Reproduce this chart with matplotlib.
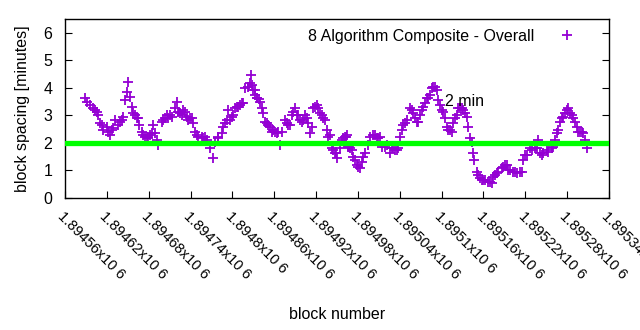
import matplotlib
matplotlib.use("Agg")
import matplotlib.pyplot as plt

# block number / spacing in minutes
blocks = [
    1894589, 1894596, 1894603, 1894607, 1894610, 1894614, 1894622, 1894624,
    1894629, 1894632, 1894639, 1894643, 1894646, 1894649, 1894650, 1894653,
    1894656, 1894660, 1894665, 1894666, 1894670, 1894675, 1894679, 1894685,
    1894686, 1894692, 1894693, 1894699, 1894703, 1894706,
    1894713, 1894718, 1894721, 1894725, 1894729, 1894735, 1894739, 1894744,
    1894746, 1894751, 1894758, 1894764, 1894768, 1894772, 1894775, 1894779,
    1894785, 1894787, 1894792, 1894794, 1894799, 1894804, 1894808, 1894814,
    1894818, 1894825, 1894826, 1894830, 1894832, 1894835,
    1894838, 1894840, 1894844, 1894850, 1894854, 1894858, 1894864, 1894868,
    1894871, 1894875, 1894880, 1894885, 1894890, 1894894, 1894900, 1894904,
    1894908, 1894911, 1894916, 1894921, 1894926, 1894930, 1894936, 1894937,
    1894943, 1894947, 1894950, 1894954, 1894959, 1894963, 1894964, 1894966,
    1894969, 1894973, 1894979, 1894983, 1894986, 1894990, 1894994, 1895002,
    1895007, 1895012, 1895014, 1895022, 1895026, 1895030, 1895036, 1895040,
    1895045, 1895050, 1895055, 1895059, 1895065, 1895069, 1895073, 1895079,
    1895083, 1895088, 1895093, 1895095,
    1895098, 1895102, 1895105, 1895109, 1895115, 1895116, 1895122, 1895123,
    1895129, 1895133, 1895136, 1895138, 1895141, 1895144, 1895145, 1895146,
    1895151, 1895155, 1895159, 1895166, 1895172, 1895174, 1895179, 1895187,
    1895191, 1895195, 1895202, 1895208, 1895212, 1895217, 1895222,
    1895227, 1895234, 1895238, 1895241, 1895245, 1895251, 1895258, 1895263,
    1895267, 1895273, 1895277, 1895281, 1895287, 1895291, 1895296, 1895301,
    1895306, 1895308,
]
spacing = [
    3.64, 3.38, 3.20, 3.00, 2.73, 2.47, 2.40, 2.30,
    2.55, 2.84, 2.76, 2.95, 3.56, 3.85, 4.20, 3.67,
    3.30, 3.00, 2.90, 2.65, 2.40, 2.20, 2.18, 2.35,
    2.65, 2.10, 1.93, 2.76, 2.90, 3.00,
    2.95, 3.27, 3.50, 3.10, 3.20, 2.95, 2.90, 2.73,
    2.40, 2.20, 2.18, 2.10, 1.82, 1.45, 2.04, 2.20,
    2.36, 2.58, 2.84, 3.20, 2.95, 3.27, 3.30, 3.45,
    4.00, 4.18, 4.47, 3.93, 3.93, 3.64,
    3.60, 3.50, 3.10, 2.73, 2.58, 2.47, 2.36, 1.93,
    2.40, 2.84, 2.65, 3.00, 3.27, 3.00, 2.76, 3.00,
    2.73, 2.36, 3.27, 3.38, 3.10, 2.90, 2.47, 2.20,
    1.82, 1.64, 1.45, 1.82, 2.18, 2.20, 2.30, 1.85,
    1.82, 1.50, 1.20, 1.09, 1.30, 1.64, 1.93, 2.30,
    2.18, 2.20, 1.85, 1.93, 1.64, 1.82, 1.75, 2.20,
    2.65, 2.84, 3.27, 3.10, 2.76, 3.00, 3.30, 3.64,
    3.75, 4.04, 3.93, 3.56,
    3.38, 3.13, 2.90, 2.47, 2.40, 2.73, 3.00, 3.27,
    3.27, 3.10, 2.95, 2.58, 2.18, 2.04, 1.64, 1.38,
    0.95, 0.73, 0.65, 0.58, 0.55, 0.76, 0.90, 1.09,
    1.20, 1.02, 0.95, 0.90, 0.95, 1.38, 1.56,
    1.82, 1.82, 2.10, 1.64, 1.64, 1.75, 1.82, 2.10,
    2.47, 2.90, 3.10, 3.27, 3.00, 2.76, 2.40, 2.40,
    2.10, 1.82,
]

# more points from the denser clusters
blocks_extra = [
    1894592, 1894600, 1894606, 1894613, 1894620, 1894627, 1894636, 1894642,
    1894657, 1894663, 1894672, 1894678, 1894682, 1894689, 1894700, 1894708,
    1894711, 1894722, 1894728, 1894732, 1894736, 1894742, 1894749, 1894756,
    1894761, 1894780, 1894789, 1894797, 1894801, 1894807, 1894811, 1894815,
    1894822, 1894828, 1894833, 1894836, 1894842, 1894847, 1894851, 1894857,
    1894861, 1894865, 1894878, 1894883, 1894887, 1894893, 1894897, 1894901,
    1894907, 1894914, 1894918, 1894923, 1894928, 1894933, 1894940, 1894944,
    1894949, 1894957, 1894961, 1894967, 1894971, 1894976, 1894980, 1894987,
    1894997, 1895004, 1895009, 1895019, 1895029, 1895033, 1895037, 1895043,
    1895047, 1895057, 1895062, 1895066, 1895072, 1895076, 1895080, 1895086,
    1895090, 1895100, 1895108, 1895112, 1895119, 1895126, 1895131, 1895152,
    1895158, 1895162, 1895169, 1895176, 1895181, 1895188, 1895194, 1895198,
    1895205, 1895215, 1895220, 1895230, 1895237, 1895244, 1895252, 1895260,
    1895265, 1895270, 1895274, 1895280, 1895284, 1895288, 1895294, 1895298,
    1895303,
]
spacing_extra = [
    3.50, 3.27, 3.13, 2.65, 2.58, 2.47, 2.65, 2.84,
    3.10, 2.90, 2.30, 2.20, 2.30, 2.36, 2.84, 2.90,
    3.00, 3.13, 3.00, 3.13, 2.84, 2.90, 2.30, 2.20,
    2.20, 2.18, 2.73, 2.84, 3.00, 3.30, 3.38, 3.45,
    4.04, 4.10, 3.75, 3.64, 3.27, 2.76, 2.65, 2.40,
    2.40, 2.40, 2.73, 2.65, 3.13, 3.00, 2.84, 2.84,
    2.90, 2.58, 3.30, 3.27, 3.00, 2.84, 2.30, 1.75,
    1.64, 2.10, 2.20, 1.85, 1.75, 1.38, 1.13, 1.50,
    2.20, 2.30, 2.18, 1.85, 1.82, 1.75, 1.82, 2.47,
    2.73, 3.20, 2.90, 2.76, 3.20, 3.45, 3.64, 4.00,
    4.04, 3.20, 2.58, 2.47, 2.90, 3.27, 3.20, 0.84,
    0.65, 0.65, 0.58, 0.84, 0.95, 1.13, 1.20, 1.02,
    0.95, 0.95, 1.56, 1.75, 1.82, 1.56, 1.67, 1.85,
    2.36, 2.76, 2.95, 3.20, 3.10, 2.90, 2.58, 2.40,
    2.36,
]

xtick_vals = list(range(1894560, 1895341, 60))
ytick_vals = [0, 1, 2, 3, 4, 5, 6]
target = 2.0
series_name = "8 Algorithm Composite - Overall"

plt.rcParams["font.family"] = ["Liberation Sans", "DejaVu Sans"]

fig = plt.figure(figsize=(6.4, 3.3), dpi=100)
ax = fig.add_axes([65 / 640, 1 - 198 / 330, 544 / 640, 179 / 330])

ax.plot(blocks + blocks_extra, spacing + spacing_extra, linestyle="none",
        marker="+", markersize=7, markeredgewidth=1.3, color="#9400d3",
        label=series_name, zorder=2)
ax.axhline(target, color="#00ff00", linewidth=3.8, zorder=3)

ax.text(1895105, 3.5, "2 min", fontsize=11.5, ha="left", va="center", zorder=4)

ax.set_xlim(1894560, 1895340)
ax.set_ylim(0, 6.5)
ax.set_xticks(xtick_vals)
ax.set_xticklabels([f"{v / 1e6:g}x10 6" for v in xtick_vals],
                   rotation=-45, ha="left", va="top", rotation_mode="anchor",
                   fontsize=10.5)
ax.set_yticks(ytick_vals)
ax.tick_params(axis="y", labelsize=11.5, direction="in", right=True,
               length=5, pad=9)
ax.tick_params(axis="x", direction="in", top=False, length=5, pad=8)
for s in ax.spines.values():
    s.set_linewidth(1.0)

ax.set_xlabel("block number", fontsize=11.5, labelpad=18)
ax.set_ylabel("block spacing [minutes]", fontsize=11.5, labelpad=10)

ax.legend(loc="upper right", markerfirst=False, frameon=False, fontsize=11.5,
          handlelength=2.5, borderaxespad=0.2, bbox_to_anchor=(0.978, 1.0))

fig.savefig("out.png", dpi=100)
